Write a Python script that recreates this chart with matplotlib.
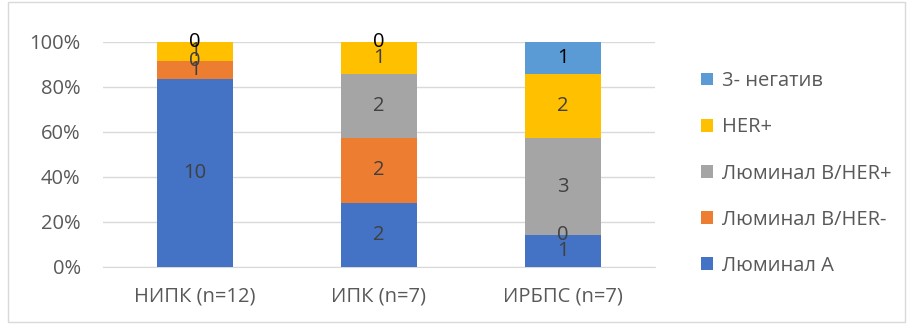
import matplotlib
matplotlib.use("Agg")
import matplotlib.pyplot as plt
import matplotlib.patches as mpatches
import numpy as np

plt.rcParams['font.family'] = ['Open Sans', 'DejaVu Sans']

groups = ['НИПК (n=12)', 'ИПК (n=7)', 'ИРБПС (n=7)']
series_names = ['Люминал А', 'Люминал В/HER-', 'Люминал В/HER+', 'HER+', '3- негатив']
lum_a = [10, 2, 1]
lum_b_neg = [1, 2, 0]
lum_b_pos = [0, 2, 3]
her_pos = [1, 1, 2]
triple_neg = [0, 0, 1]
colors = ['#4472C4', '#ED7D31', '#A5A5A5', '#FFC000', '#5B9BD5']
label_colors = ['#404040', '#404040', '#404040', '#404040', '#000000']
y_ticks = [0, 20, 40, 60, 80, 100]

counts = np.array([lum_a, lum_b_neg, lum_b_pos, her_pos, triple_neg], dtype=float)
totals = counts.sum(axis=0)
shares = counts / totals * 100

fig = plt.figure(figsize=(9.08, 3.24), dpi=100)
ax = fig.add_axes([0.1134, 0.176, 0.608, 0.695])

x = np.arange(len(groups))
bottom = np.zeros(len(groups))
handles = []
for i, name in enumerate(series_names):
    b = ax.bar(x, shares[i], 0.41, bottom=bottom, color=colors[i], label=name, zorder=3)
    handles.append(b)
    for j in range(len(groups)):
        ax.text(x[j], bottom[j] + shares[i][j] / 2, '%d' % counts[i][j],
                ha='center', va='center', fontsize=14.5, color=label_colors[i], zorder=4)
    bottom += shares[i]

ax.set_xlim(-0.5, 2.5)
ax.set_ylim(0, 100)
ax.set_yticks(y_ticks)
ax.set_yticklabels(['%d%%' % t for t in y_ticks])
ax.set_xticks(x)
ax.set_xticklabels(groups)
ax.yaxis.grid(True, color='#D9D9D9', linewidth=1, zorder=0)
for s in ['top', 'right', 'left']:
    ax.spines[s].set_visible(False)
ax.spines['bottom'].set_color('#D9D9D9')
ax.tick_params(axis='both', length=0, labelsize=14.5, colors='#595959')
ax.tick_params(axis='y', pad=16)
ax.tick_params(axis='x', pad=14)

leg = ax.legend(handles[::-1], series_names[::-1], loc='center left',
                bbox_to_anchor=(1.05, 0.415), frameon=False, fontsize=14.5,
                handlelength=0.6, handleheight=0.6, handletextpad=0.45,
                labelspacing=1.3, labelcolor='#595959')

fig.patches.append(mpatches.Rectangle((0.009, 0.005), 0.988, 0.99, transform=fig.transFigure,
                                      fill=False, edgecolor='#D9D9D9', linewidth=1))

fig.savefig('out.png', dpi=100)
